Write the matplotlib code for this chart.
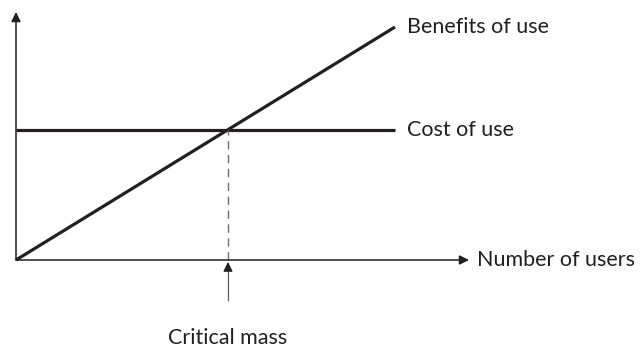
import matplotlib.pyplot as plt

# -------------------------
# Schematic data
# -------------------------
users = [0, 379]            # x extent of the lines
benefits = [0, 233]         # benefits of use rises linearly
cost = [130, 130]           # cost of use is flat
critical_mass = 212         # crossing point
x_axis_end = 453
y_axis_end = 248

labels = {"benefits": "Benefits of use", "cost": "Cost of use",
          "x": "Number of users", "critical": "Critical mass"}

ink = "#231f20"
plt.rcParams["font.family"] = ["Lato", "DejaVu Sans"]

fig = plt.figure(figsize=(6.43, 3.48), dpi=100)
ax = fig.add_axes([0, 0, 1, 1])
ax.set_xlim(-16, 627)
ax.set_ylim(-88, 260)
ax.axis("off")

# axes with arrows
arrow = dict(arrowstyle="-|>", color=ink, lw=1.1, mutation_scale=14, shrinkA=0, shrinkB=0)
ax.annotate("", xy=(x_axis_end, 0), xytext=(0, 0), arrowprops=arrow)
ax.annotate("", xy=(0, y_axis_end), xytext=(0, 0), arrowprops=arrow)

# lines
ax.plot(users, benefits, color=ink, lw=2.3, solid_capstyle="butt")
ax.plot(users, cost, color=ink, lw=2.3, solid_capstyle="butt")
ax.plot([critical_mass, critical_mass], [0, cost[0]], color="#6d6e71", lw=1.0,
        ls=(0, (6, 4)))

# critical mass pointer (grey shaft, dark head)
ax.plot([critical_mass, critical_mass], [-40, -8], color="#58595b", lw=0.9)
ax.annotate("", xy=(critical_mass, -2), xytext=(critical_mass, -10),
            arrowprops=dict(arrowstyle="-|>", color=ink, lw=0.9,
                            mutation_scale=14, shrinkA=0, shrinkB=0))

fs = 15.5
ax.text(391, benefits[1], labels["benefits"], fontsize=fs, color=ink, va="center")
ax.text(391, cost[0], labels["cost"], fontsize=fs, color=ink, va="center")
ax.text(461, 0, labels["x"], fontsize=fs, color=ink, va="center")
ax.text(critical_mass, -78, labels["critical"], fontsize=fs, color=ink,
        va="center", ha="center")

fig.savefig("out.png", dpi=100)
